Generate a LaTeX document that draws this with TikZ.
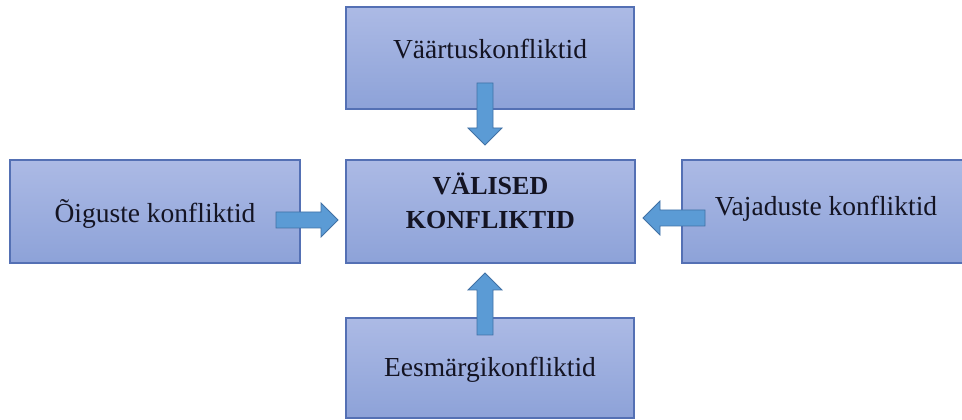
\documentclass[tikz,border=0pt]{standalone}
\usepackage{fontspec}
\setmainfont{Liberation Serif}
\definecolor{boxtop}{RGB}{172,186,229}
\definecolor{boxbot}{RGB}{141,162,216}
\definecolor{boxline}{RGB}{84,112,180}
\definecolor{arrfill}{RGB}{91,155,213}
\definecolor{arrline}{RGB}{65,113,165}
\definecolor{txtcol}{RGB}{20,20,35}
\begin{document}
\begin{tikzpicture}[x=1pt,y=1pt,
  cbox/.style={draw=boxline, line width=1.1pt, top color=boxtop, bottom color=boxbot, inner sep=0pt},
  ctext/.style={text=txtcol, font=\fontsize{27.5}{32}\selectfont, align=center, inner sep=0pt},
  blockarrow/.pic={\filldraw[fill=arrfill, draw=arrline, line width=0.8pt, line join=miter]
    (0,-8)--(45,-8)--(45,-17)--(62,0)--(45,17)--(45,8)--(0,8)--cycle;}]
\useasboundingbox (0,0) rectangle (962,420);
% boxes
\node[cbox, minimum width=288, minimum height=102] (top) at (490,362) {};
\node[cbox, minimum width=289, minimum height=103] (mid) at (490.5,208.5) {};
\node[cbox, minimum width=290, minimum height=103] (left) at (155,208.5) {};
\node[cbox, minimum width=282, minimum height=103] (right) at (823,208.5) {};
\node[cbox, minimum width=288, minimum height=100] (bot) at (490,52) {};
% texts
\node[ctext] (ttop) at ([yshift=9]top.center) {Väärtuskonfliktid};
\node[ctext, font=\fontsize{26}{34}\selectfont\bfseries] (tmid) at ([yshift=11]mid.center) {VÄLISED\\KONFLIKTID};
\node[ctext] (tleft) at ([yshift=-2]left.center) {Õiguste konfliktid};
\node[ctext] (tright) at ([xshift=3,yshift=3]right.center) {Vajaduste konfliktid};
\node[ctext] (tbot) at ([yshift=-2]bot.center) {Eesmärgikonfliktid};
% block arrows
\pic[rotate=-90] at (485,337) {blockarrow};
\pic at (276,200) {blockarrow};
\pic[rotate=180] at (705,202) {blockarrow};
\pic[rotate=90] at (485,85) {blockarrow};
\end{tikzpicture}
\end{document}
